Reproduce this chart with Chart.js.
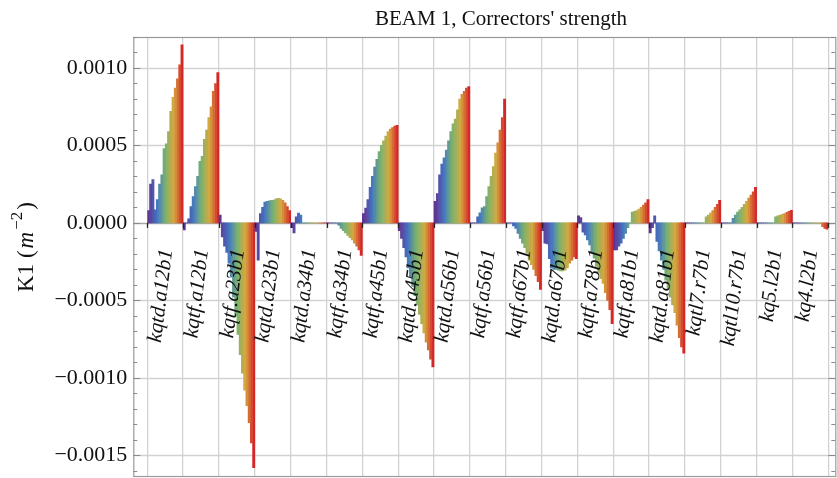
<!DOCTYPE html>
<html>
<head>
<meta charset="utf-8">
<script src="https://cdn.jsdelivr.net/npm/chart.js@4"></script>
<style>
html, body { margin: 0; padding: 0; background: #fff; }
canvas { display: block; }
</style>
</head>
<body>
<canvas id="chart" width="837" height="478"></canvas>
<script>
// corrector strengths, units of 1e-4 m^-2, 16 settings per corrector
const kqtd_a12b1 = [0.8, 2.5, 2.8, 0.85, 1.5, 2.5, 3.1, 4.8, 5.1, 5.9, 7.2, 8.1, 8.7, 9.3, 10.2, 11.5];
const kqtf_a12b1 = [-0.45, 0, 0.26, 1.05, 1.7, 2.35, 3.0, 3.97, 4.3, 5.4, 6.0, 6.8, 7.5, 8.5, 9.0, 9.7];
const kqtf_a23b1 = [0.5, -0.9, -1.5, -1.9, -2.6, -3.5, -4.8, -6.0, -7.2, -8.5, -9.7, -10.8, -11.8, -12.9, -14.2, -15.8];
const kqtd_a23b1 = [-0.55, -2.4, 0.6, 1.0, 1.35, 1.4, 1.42, 1.45, 1.48, 1.55, 1.58, 1.55, 1.45, 1.3, 1.05, 0.8];
const kqtd_a34b1 = [-0.3, -0.65, 0.4, 0.63, 0.5, 0, 0, 0, 0, 0, 0, 0, 0, 0, 0, 0];
const kqtf_a34b1 = [0, 0, 0, 0, 0, -0.15, -0.35, -0.5, -0.65, -0.8, -0.95, -1.1, -1.3, -1.5, -1.75, -2.1];
const kqtf_a45b1 = [0.6, 0.95, 1.5, 2.3, 3.0, 3.6, 4.1, 4.6, 5.0, 5.3, 5.6, 5.9, 6.05, 6.15, 6.25, 6.3];
const kqtd_a45b1 = [-0.5, -1.0, -1.6, -2.2, -2.9, -3.5, -4.1, -4.7, -5.3, -5.9, -6.5, -7.1, -7.7, -8.2, -8.8, -9.3];
const kqtd_a56b1 = [1.4, 1.9, 3.1, 3.8, 4.2, 4.7, 5.3, 5.9, 6.4, 6.7, 7.3, 8.0, 8.3, 8.5, 8.7, 8.8];
const kqtf_a56b1 = [0, 0, 0, 0.4, 0.65, 0.97, 1.05, 1.7, 2.35, 3.0, 3.64, 4.5, 5.17, 6.0, 6.8, 8.0];
const kqtf_a67b1 = [0, 0, 0, -0.2, -0.35, -0.67, -1.0, -1.3, -1.6, -1.96, -2.4, -2.7, -3.0, -3.4, -3.8, -4.3];
const kqtd_a67b1 = [-0.5, -1.3, -1.35, -2.3, -2.9, -3.0, -3.0, -3.05, -3.1, -3.1, -3.05, -2.9, -2.6, -2.4, -2.2, -2.3];
const kqtf_a78b1 = [0.45, 0.35, -0.6, -0.78, -1.1, -1.42, -1.85, -2.28, -2.8, -3.2, -3.6, -3.9, -4.5, -5.0, -5.6, -6.5];
const kqtf_a81b1 = [-1.75, -1.75, -1.5, -1.3, -1.0, -0.67, -0.3, 0, 0.7, 0.75, 0.8, 0.9, 1.0, 1.15, 1.3, 1.5];
const kqtd_a81b1 = [-0.65, -0.3, 0.45, -1.2, -1.8, -2.4, -3.0, -3.7, -4.3, -4.8, -5.3, -5.8, -6.6, -7.4, -8.0, -8.4];
const kqtl7_r7b1 = [0, 0, 0, 0, 0, 0, 0, 0, 0, 0.4, 0.5, 0.65, 0.8, 1.0, 1.2, 1.45];
const kqtl10_r7b1 = [0, 0, 0, 0, 0, 0.3, 0.5, 0.7, 0.85, 1.0, 1.2, 1.4, 1.6, 1.8, 2.0, 2.3];
const kq5_l2b1 = [0, 0, 0, 0, 0, 0, 0, 0, 0.4, 0.45, 0.5, 0.55, 0.6, 0.68, 0.75, 0.82];
const kq4_l2b1 = [0, 0, 0, 0, 0, 0, 0, 0, 0, 0, 0, 0, 0, -0.25, -0.35, -0.4];

const correctors = ['kqtd.a12b1', 'kqtf.a12b1', 'kqtf.a23b1', 'kqtd.a23b1', 'kqtd.a34b1', 'kqtf.a34b1',
	'kqtf.a45b1', 'kqtd.a45b1', 'kqtd.a56b1', 'kqtf.a56b1', 'kqtf.a67b1', 'kqtd.a67b1', 'kqtf.a78b1',
	'kqtf.a81b1', 'kqtd.a81b1', 'kqtl7.r7b1', 'kqtl10.r7b1', 'kq5.l2b1', 'kq4.l2b1'];
const groups = [kqtd_a12b1, kqtf_a12b1, kqtf_a23b1, kqtd_a23b1, kqtd_a34b1, kqtf_a34b1,
	kqtf_a45b1, kqtd_a45b1, kqtd_a56b1, kqtf_a56b1, kqtf_a67b1, kqtd_a67b1, kqtf_a78b1,
	kqtf_a81b1, kqtd_a81b1, kqtl7_r7b1, kqtl10_r7b1, kq5_l2b1, kq4_l2b1];
const yTicks = [-0.0015, -0.001, -0.0005, 0, 0.0005, 0.001];
const UNIT = 1e-4;

const rainbowStops = [[98, 52, 146], [66, 118, 196], [122, 180, 110], [214, 168, 62], [212, 40, 40]];
function rainbow(t) {
	const p = t * (rainbowStops.length - 1);
	const i = Math.min(Math.floor(p), rainbowStops.length - 2);
	const f = p - i;
	const c = rainbowStops[i].map((v, k) => Math.round(v + (rainbowStops[i + 1][k] - v) * f));
	return 'rgb(' + c.join(',') + ')';
}

const nBars = groups[0].length;
const datasets = [];
for (let j = 0; j < nBars; j++) {
	datasets.push({
		label: 'setting ' + (j + 1),
		data: groups.map(g => g[j] * UNIT),
		backgroundColor: rainbow(j / (nBars - 1)),
		borderWidth: 0,
		categoryPercentage: 1,
		barPercentage: 1
	});
}

const SERIF = '"Liberation Serif", "Times New Roman", serif';
const GRID = '#d2d2d2';

const decorations = {
	id: 'decorations',
	beforeDatasetsDraw(chart) {
		const ctx = chart.ctx, y = chart.scales.y, a = chart.chartArea;
		ctx.save();
		ctx.lineWidth = 1.3;
		yTicks.forEach(v => {
			const py = Math.round(y.getPixelForValue(v)) + 0.5;
			ctx.strokeStyle = v === 0 ? '#a8a8a8' : GRID;
			ctx.beginPath();
			ctx.moveTo(a.left - 14, py);
			ctx.lineTo(a.right + 7, py);
			ctx.stroke();
		});
		ctx.restore();
	},
	afterDatasetsDraw(chart) {
		const ctx = chart.ctx, x = chart.scales.x, y = chart.scales.y, a = chart.chartArea;
		const fl = a.left - 14, fr = a.right + 7;
		const y0 = y.getPixelForValue(0);
		ctx.save();

		// frame
		ctx.strokeStyle = '#9a9a9a';
		ctx.lineWidth = 1.2;
		ctx.strokeRect(fl + 0.5, a.top + 0.5, fr - fl, a.bottom - a.top - 1);

		// minor ticks on the frame
		ctx.strokeStyle = '#8a8a8a';
		ctx.lineWidth = 1;
		for (let k = -16; k <= 12; k++) {
			const py = Math.round(y.getPixelForValue(k * 0.0001)) + 0.5;
			if (py < a.top || py > a.bottom) continue;
			const major = k % 5 === 0;
			ctx.beginPath();
			ctx.moveTo(fl, py);
			ctx.lineTo(fl + (major ? 7 : 4), py);
			ctx.moveTo(fr, py);
			ctx.lineTo(fr - (major ? 7 : 4), py);
			ctx.stroke();
		}

		// ticks on the zero line at group boundaries
		ctx.strokeStyle = '#222';
		ctx.lineWidth = 1.3;
		const w = (a.right - a.left) / correctors.length;
		for (let i = 0; i <= correctors.length; i++) {
			const px = Math.round(a.left + i * w) + 0.5;
			ctx.beginPath();
			ctx.moveTo(px, y0);
			ctx.lineTo(px, y0 + 5);
			ctx.stroke();
		}

		// corrector names
		ctx.fillStyle = '#111';
		ctx.font = 'italic 21px ' + SERIF;
		ctx.textAlign = 'right';
		ctx.textBaseline = 'alphabetic';
		correctors.forEach((name, i) => {
			const cx = x.getPixelForValue(i);
			ctx.save();
			ctx.translate(cx + 7, y0 + 27);
			ctx.rotate(-83 * Math.PI / 180);
			ctx.fillText(name, 0, 0);
			ctx.restore();
		});

		// title
		ctx.font = '21px ' + SERIF;
		ctx.textAlign = 'center';
		ctx.fillStyle = '#111';
		ctx.fillText("BEAM 1, Correctors' strength", 501, 25);

		// y axis title K1 (m^-2)
		const parts = [
			{t: 'K1 (', f: '23px ' + SERIF, dy: 0},
			{t: 'm', f: 'italic 23px ' + SERIF, dy: 0},
			{t: '\u22122', f: '17px ' + SERIF, dy: -11},
			{t: ')', f: '23px ' + SERIF, dy: 0}
		];
		let total = 0;
		parts.forEach(p => { ctx.font = p.f; p.w = ctx.measureText(p.t).width + 2; total += p.w; });
		ctx.translate(33, 246);
		ctx.rotate(-Math.PI / 2);
		ctx.textAlign = 'left';
		let cur = -total / 2;
		parts.forEach(p => {
			ctx.font = p.f;
			ctx.fillText(p.t, cur, p.dy);
			cur += p.w;
		});
		ctx.restore();
	}
};

new Chart(document.getElementById('chart'), {
	type: 'bar',
	data: { labels: correctors, datasets: datasets },
	options: {
		responsive: false,
		animation: false,
		layout: { padding: { left: 0, right: 8.7, top: 37, bottom: 1 } },
		plugins: { legend: { display: false }, tooltip: { enabled: false } },
		scales: {
			x: {
				offset: true,
				ticks: { display: false },
				grid: { color: GRID, lineWidth: 1.3, drawTicks: false, offset: true },
				border: { display: false },
				afterFit: s => { s.height = 0; }
			},
			y: {
				min: -0.00164,
				max: 0.0012,
				afterBuildTicks: s => { s.ticks = yTicks.map(v => ({ value: v })); },
				afterFit: s => { s.width = 147.3; s.paddingTop = 0; s.paddingBottom = 0; },
				ticks: {
					padding: 20,
					color: '#111',
					font: { family: SERIF, size: 22 },
					callback: v => (v < 0 ? '\u2212' : '') + Math.abs(v).toFixed(4)
				},
				grid: { display: false, drawTicks: false },
				border: { display: false }
			}
		}
	},
	plugins: [decorations]
});
</script>
</body>
</html>
